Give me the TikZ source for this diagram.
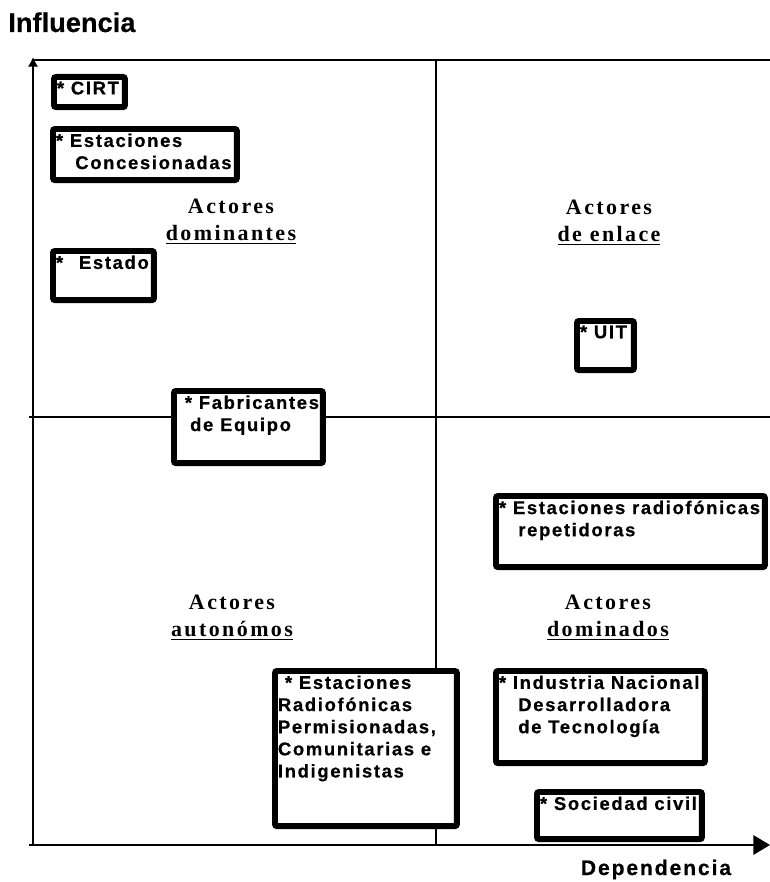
\documentclass[tikz,border=0pt]{standalone}
\usepackage{fontspec}
\setmainfont{Liberation Sans}
\newfontfamily\boxfont{Liberation Sans}[LetterSpace=9,FakeBold=0.6]
\newfontfamily\quadfont{Liberation Serif}[LetterSpace=11]
\newfontfamily\titlefont{Liberation Sans}[FakeBold=0.4]
\usetikzlibrary{arrows.meta,positioning}
\newdimen\px \px=0.569pt
\newcommand{\actortext}[3]{\parbox[c][#2\px][t]{#1\px}{#3}}

\begin{document}
\begin{tikzpicture}[
  x=0.02cm, y=-0.02cm,
  axis/.style={
    draw=black,
    line width=1.3pt
  },
  grid/.style={
    draw=black,
    line width=1.1pt
  },
  actor/.style={
    draw,
    fill=white,
    line width=3.4pt,
    rounded corners=1.2pt,
    inner xsep=1.7pt,
    inner ysep=2.6pt,
    anchor=north west,
    font=\boxfont\bfseries\fontsize{10.5}{12.6}\selectfont
  },
  quad/.style={
    inner sep=0pt,
    anchor=north,
    align=center,
    font=\quadfont\bfseries\fontsize{12.5}{15.4}\selectfont
  },
  axislabel/.style={
    inner sep=0pt,
    font=\boxfont\bfseries\fontsize{12}{14}\selectfont
  },
  title/.style={
    inner sep=0pt,
    font=\titlefont\bfseries\fontsize{15.5}{18}\selectfont
  }
]
\useasboundingbox (0,0) rectangle (770,882);

% Axes and quadrant lines
\coordinate (origin) at (33,845);
\coordinate (ytop)   at (33,57);
\coordinate (xend)   at (770,845);
\coordinate (tl) at (33,60);
\coordinate (tr) at (770,60);
\coordinate (ml) at (29,417);
\coordinate (mr) at (770,417);
\coordinate (mt) at (436,60);
\coordinate (mb) at (436,845);

\draw[grid] (tl) -- (tr);
\draw[grid] (ml) -- (mr);
\draw[grid] (mt) -- (mb);
\draw[axis, -{Latex[length=5.5pt,width=6pt]}] (origin) -- (ytop);
\draw[axis, -{Triangle[length=9.5pt,width=11pt]}] (29,845) -- (xend);

\node[title, anchor=base west] (influencia) at (8,32) {Influencia};
\node[axislabel, anchor=base] (dependencia) at (656,875) {Dependencia};

% Quadrant labels
\node[quad] (dominantes) at (231,199) {Actores\\\underline{dominantes}};
\node[quad] (enlace)     at (609,200) {Actores\\\underline{de enlace}};
\node[quad] (autonomos)  at (232,595) {Actores\\\underline{autonómos}};
\node[quad] (dominados)  at (608,595) {Actores\\\underline{dominados}};

% Actors
\node[actor] (cirt) at (51,74) {\actortext{65}{21}{* CIRT}};
\node[actor] (concesionadas) at (50,126)
  {\actortext{178}{42}{* Estaciones\\\hspace*{11pt}Concesionadas}};
\node[actor] (estado) at (50,248) {\actortext{95}{40}{*\hspace*{9pt}Estado}};
\node[actor] (uit) at (574,318) {\actortext{51}{40}{* UIT}};
\node[actor] (fabricantes) at (171,388)
  {\actortext{143}{63}{\hspace*{4.5pt}* Fabricantes\\\hspace*{7.5pt}de Equipo}};
\node[actor] (repetidoras) at (493,493)
  {\actortext{263}{62}{* Estaciones radiofónicas\\\hspace*{11pt}repetidoras}};
\node[actor] (industria) at (493,668)
  {\actortext{203}{83}{* Industria Nacional\\\hspace*{11pt}Desarrolladora\\\hspace*{11pt}de Tecnología}};
\node[actor] (sociedad) at (534,789) {\actortext{159}{38}{* Sociedad civil}};
\node[actor] (permisionadas) at (272,668)
  {\actortext{176}{146}{\hspace*{4pt}* Estaciones\\Radiofónicas\\Permisionadas,\\Comunitarias e\\Indigenistas}};

\end{tikzpicture}
\end{document}
